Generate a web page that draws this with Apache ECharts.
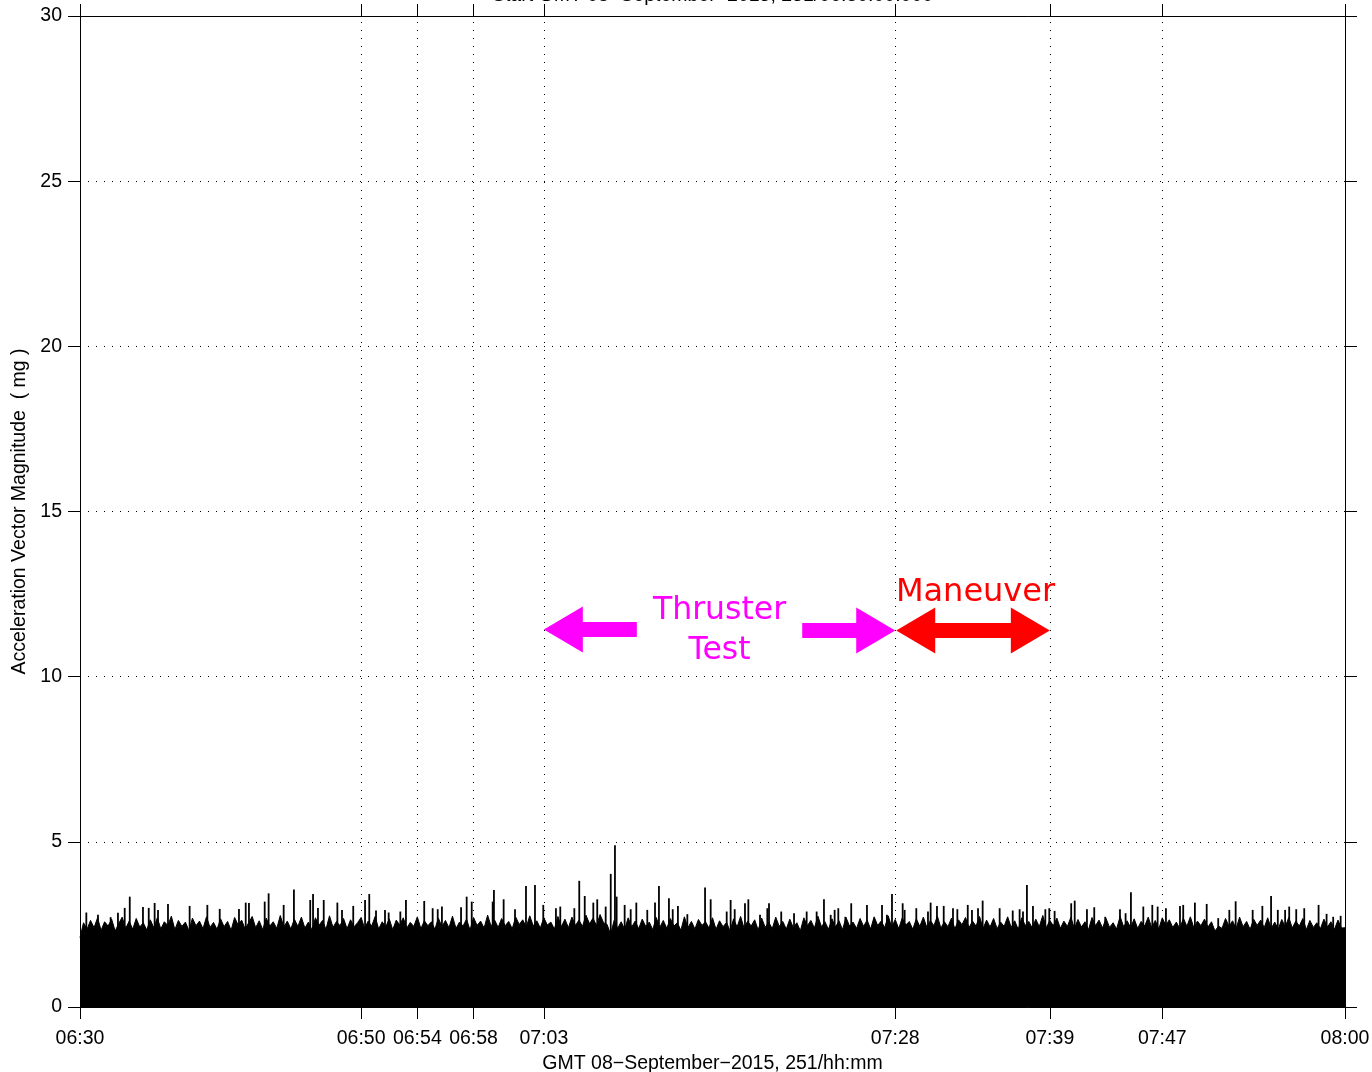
<!DOCTYPE html>
<html><head><meta charset="utf-8">
<script src="https://cdn.jsdelivr.net/npm/echarts@6/dist/echarts.min.js"></script>
<style>html,body{margin:0;padding:0;background:#fff;overflow:hidden}#c{width:1372px;height:1072px}</style>
</head><body><div id="c"></div>
<script>
// minutes after 06:30
const tickMinutes = [0, 20, 24, 28, 33, 58, 69, 77, 90];
const tickLabels = ['06:30', '06:50', '06:54', '06:58', '07:03', '07:28', '07:39', '07:47', '08:00'];
const gridMinutes = [20, 24, 28, 33, 58, 69, 77];

// dense noise band envelope (every 0.25 min)
const floorStep = 0.25;
const floorValues = [
 2.10,2.55,2.35,2.62,2.40,2.70,2.32,2.58,2.45,2.66,2.30,2.52,2.72,2.38,2.60,2.35,2.68,2.42,2.55,2.33,
 2.64,2.40,2.70,2.36,2.58,2.47,2.75,2.34,2.62,2.44,2.57,2.31,2.69,2.46,2.60,2.37,2.73,2.41,2.56,2.35,
 2.67,2.43,2.59,2.32,2.71,2.48,2.63,2.36,2.55,2.74,2.40,2.61,2.34,2.69,2.45,2.58,2.38,2.77,2.42,2.60,
 2.36,2.66,2.44,2.72,2.39,2.57,2.33,2.70,2.47,2.62,2.35,2.76,2.41,2.59,2.46,2.68,2.37,2.64,2.43,2.55,
 2.71,2.38,2.60,2.45,2.74,2.36,2.58,2.42,2.67,2.34,2.63,2.48,2.70,2.39,2.56,2.44,2.73,2.37,2.61,2.46,
 2.58,2.35,2.69,2.43,2.62,2.40,2.75,2.38,2.57,2.45,2.66,2.33,2.71,2.47,2.60,2.39,2.78,2.44,2.63,2.41,
 2.68,2.46,2.59,2.37,2.72,2.50,2.64,2.42,2.76,2.45,2.61,2.39,2.70,2.48,2.57,2.36,2.74,2.43,2.66,2.40,
 2.72,2.47,2.63,2.44,2.78,2.52,2.69,2.46,2.80,2.55,2.50,2.20,2.62,2.38,2.58,2.35,2.70,2.42,2.60,2.37,
 2.66,2.44,2.57,2.34,2.71,2.41,2.62,2.38,2.68,2.45,2.55,2.32,2.73,2.40,2.59,2.36,2.65,2.47,2.58,2.39,
 2.70,2.35,2.61,2.43,2.56,2.30,2.67,2.42,2.74,2.38,2.60,2.45,2.64,2.33,2.69,2.41,2.57,2.37,2.72,2.44,
 2.59,2.36,2.66,2.40,2.55,2.31,2.70,2.46,2.62,2.39,2.75,2.43,2.58,2.35,2.67,2.42,2.61,2.34,2.71,2.45,
 2.57,2.38,2.68,2.44,2.63,2.36,2.73,2.47,2.60,2.40,2.76,2.42,2.65,2.37,2.70,2.48,2.59,2.35,2.67,2.44,
 2.72,2.41,2.62,2.46,2.75,2.39,2.58,2.43,2.69,2.36,2.64,2.49,2.71,2.40,2.60,2.45,2.74,2.38,2.63,2.42,
 2.68,2.37,2.57,2.44,2.73,2.41,2.61,2.35,2.70,2.47,2.59,2.39,2.66,2.43,2.77,2.40,2.62,2.46,2.69,2.38,
 2.60,2.44,2.72,2.37,2.65,2.42,2.58,2.34,2.71,2.46,2.63,2.39,2.68,2.41,2.55,2.36,2.74,2.43,2.61,2.40,
 2.67,2.38,2.59,2.45,2.72,2.40,2.62,2.36,2.70,2.47,2.64,2.41,2.57,2.37,2.69,2.44,2.73,2.39,2.60,2.46,
 2.66,2.42,2.58,2.30,2.45,2.38,2.68,2.44,2.61,2.37,2.72,2.43,2.59,2.35,2.66,2.47,2.63,2.40,2.70,2.38,
 2.57,2.36,2.65,2.43,2.71,2.39,2.60,2.45,2.68,2.34,2.62,2.41,2.55,2.37,2.66,2.42,2.58,2.35,2.63,2.39,
 2.40
];

// individual spikes
const spikeMinutes = [
 0.45,1.28,2.18,2.70,3.18,3.54,4.48,4.89,5.31,5.55,6.26,7.80,9.06,9.94,11.31,11.79,12.02,13.14,13.42,14.49,
 15.22,16.38,16.58,16.93,17.34,18.31,18.64,19.44,20.28,20.58,21.06,21.70,21.96,22.79,23.19,24.49,25.09,25.45,25.75,27.11,
 27.51,27.87,29.36,29.45,30.14,30.95,31.73,32.37,32.96,33.86,34.17,35.17,35.52,35.91,36.52,36.80,37.40,37.76,38.06,38.18,
 38.75,39.18,39.58,40.36,40.91,41.19,41.90,42.17,42.54,43.21,44.47,44.87,46.01,46.29,46.58,47.31,47.55,48.38,48.90,49.02,
 49.89,50.80,51.70,52.41,52.93,53.41,53.69,53.95,54.45,54.87,55.99,57.06,57.41,57.77,58.53,58.67,59.50,60.33,60.52,60.97,
 61.45,62.11,62.42,63.16,63.46,63.89,64.22,65.43,66.36,66.85,67.09,67.37,67.80,68.68,68.96,69.34,70.52,70.77,71.64,72.16,
 72.94,73.99,74.39,74.77,75.65,76.29,76.67,77.26,78.26,78.49,79.32,80.16,80.98,81.77,82.22,83.43,84.12,84.74,85.22,85.74,
 86.03,86.53,87.10,88.12,88.69,89.16,89.69
];
const spikeValues = [
 2.86,2.79,2.72,2.85,3.00,3.34,3.03,3.00,3.15,2.94,3.12,3.06,3.09,2.97,2.97,3.16,3.15,3.19,3.44,3.09,
 3.56,3.24,3.42,3.00,3.24,3.16,2.94,3.06,3.24,3.42,2.92,2.94,2.86,2.89,3.24,3.21,2.99,2.96,3.04,3.02,
 3.34,3.19,3.19,3.54,3.26,2.96,3.66,3.69,3.09,2.99,3.04,2.99,3.82,3.36,3.16,3.26,3.04,4.03,4.90,3.34,
 3.09,2.96,3.16,2.94,3.16,3.66,3.29,2.96,3.06,2.81,3.62,3.26,2.89,3.24,2.96,3.14,3.26,2.79,2.99,3.14,
 2.89,2.84,2.89,2.89,3.26,2.79,2.94,2.99,2.73,3.14,3.09,3.09,2.79,3.42,3.14,2.94,2.99,2.89,3.16,3.06,
 3.06,2.99,2.96,3.09,2.94,2.99,3.22,2.99,2.92,2.96,2.89,3.69,3.06,2.96,2.99,2.91,3.14,3.22,2.96,3.02,
 2.73,2.96,2.84,3.47,3.04,3.09,3.04,2.99,3.06,3.09,3.16,3.12,2.69,2.94,3.20,2.94,3.06,3.36,2.94,2.94,
 3.04,2.96,2.99,3.09,2.82,2.73,2.76
];

// annotation spans (minutes) and level (mg)
const thrusterSpan = [33, 58];
const maneuverSpan = [58, 69];
const arrowLevel = 11.43;

const FONT = 'Liberation Sans';
const FS = 19.5;

const chart = echarts.init(document.getElementById('c'), null, {renderer: 'canvas', width: 1372, height: 1072});

const labelFor = v => { const i = tickMinutes.indexOf(v); return i >= 0 ? tickLabels[i] : ''; };
const dotted = {color: '#000', width: 1, type: [1, 7]};

const option = {
  animation: false,
  backgroundColor: '#fff',
  grid: {left: 80, width: 1265, top: 16, height: 991, containLabel: false, outerBoundsMode: 'none'},
  xAxis: [{
    type: 'value', min: 0, max: 90, position: 'bottom',
    axisLine: {show: true, onZero: false, lineStyle: {color: '#000', width: 1}},
    axisTick: {show: true, customValues: tickMinutes, length: 12, lineStyle: {color: '#000', width: 1}},
    axisLabel: {customValues: tickMinutes, formatter: labelFor, color: '#000', fontSize: FS, fontFamily: FONT, margin: 22},
    splitLine: {show: false},
    name: 'GMT 08\u2212September\u22122015, 251/hh:mm', nameLocation: 'middle', nameGap: 45,
    nameTextStyle: {color: '#000', fontSize: FS, fontFamily: FONT}
  }, {
    type: 'value', min: 0, max: 90, position: 'top',
    axisLine: {show: true, onZero: false, lineStyle: {color: '#000', width: 1}},
    axisTick: {show: true, customValues: tickMinutes, length: 12, lineStyle: {color: '#000', width: 1}},
    axisLabel: {show: false},
    splitLine: {show: false}
  }],
  yAxis: [{
    type: 'value', min: 0, max: 30, interval: 5, position: 'left',
    axisLine: {show: true, onZero: false, lineStyle: {color: '#000', width: 1}},
    axisTick: {show: true, length: 12, lineStyle: {color: '#000', width: 1}},
    axisLabel: {color: '#000', fontSize: FS, fontFamily: FONT, margin: 18},
    splitLine: {show: true, lineStyle: dotted},
    name: 'Acceleration Vector Magnitude  ( mg )', nameLocation: 'middle', nameGap: 50,
    nameTextStyle: {color: '#000', fontSize: FS, fontFamily: FONT}
  }, {
    type: 'value', min: 0, max: 30, interval: 5, position: 'right',
    axisLine: {show: true, onZero: false, lineStyle: {color: '#000', width: 1}},
    axisTick: {show: true, length: 12, lineStyle: {color: '#000', width: 1}},
    axisLabel: {show: false},
    splitLine: {show: false}
  }],
  series: [{
    type: 'line', data: [], z: 1, silent: true,
    markLine: {
      silent: true, symbol: 'none', label: {show: false},
      lineStyle: dotted,
      data: gridMinutes.map(m => ({xAxis: m}))
    }
  }, {
    type: 'line', z: 2, silent: true, showSymbol: false,
    data: floorValues.map((v, i) => [i * floorStep, v]),
    lineStyle: {color: '#000', width: 1},
    areaStyle: {color: '#000', opacity: 1}
  }, {
    type: 'bar', z: 3, silent: true, barWidth: 1.8,
    data: spikeMinutes.map((m, i) => [m, spikeValues[i]]),
    itemStyle: {color: '#000'}
  }]
};
chart.setOption(option);

function px(m, v) { return chart.convertToPixel({gridIndex: 0}, [m, v]); }
function arrowPts(tipX, tailX, y, headLen, headHalf, shaftHalf) {
  const d = tailX > tipX ? 1 : -1;
  const hb = tipX + d * headLen;
  return [[tipX, y], [hb, y - headHalf], [hb, y - shaftHalf], [tailX, y - shaftHalf],
          [tailX, y + shaftHalf], [hb, y + shaftHalf], [hb, y + headHalf]];
}
const t0 = px(thrusterSpan[0], arrowLevel), t1 = px(thrusterSpan[1], arrowLevel);
const m0 = px(maneuverSpan[0], arrowLevel), m1 = px(maneuverSpan[1], arrowLevel);
const y = t0[1];
const arrowLen = 93;
const tMid = (t0[0] + t1[0]) / 2;
const mMid = (m0[0] + m1[0]) / 2 + 3;
const MAG = '#ff00ff', RED = '#ff0000';
const topMid = (px(0, 0)[0] + px(90, 0)[0]) / 2;

chart.setOption({
  graphic: [
    {type: 'polygon', shape: {points: arrowPts(t0[0], t0[0] + arrowLen, y, 39, 23, 7.5)}, style: {fill: MAG}, silent: true, z: 10},
    {type: 'polygon', shape: {points: arrowPts(t1[0], t1[0] - arrowLen, y + 1, 39, 23, 7.5)}, style: {fill: MAG}, silent: true, z: 10},
    {type: 'polygon', shape: {points: arrowPts(m0[0] + 1, mMid, y + 1, 39, 23, 7.5)}, style: {fill: RED}, silent: true, z: 10},
    {type: 'polygon', shape: {points: arrowPts(m1[0], mMid - 1, y + 1, 39, 23, 7.5)}, style: {fill: RED}, silent: true, z: 10},
    {type: 'text', x: tMid, y: y - 19, silent: true, z: 10,
     style: {text: 'Thruster', fill: MAG, font: '31.5px "DejaVu Sans"', align: 'center', verticalAlign: 'middle'}},
    {type: 'text', x: tMid, y: y + 21, silent: true, z: 10,
     style: {text: 'Test', fill: MAG, font: '31.5px "DejaVu Sans"', align: 'center', verticalAlign: 'middle'}},
    {type: 'text', x: mMid, y: y - 37, silent: true, z: 10,
     style: {text: 'Maneuver', fill: RED, font: '32px "DejaVu Sans"', align: 'center', verticalAlign: 'middle'}},
    {type: 'text', x: topMid, y: -4, silent: true, z: 10,
     style: {text: 'Start GMT 08\u2212September\u22122015, 251/06:30:00.000', fill: '#000', font: FS + 'px "' + FONT + '"', align: 'center', verticalAlign: 'middle'}}
  ]
});
</script>
</body></html>
